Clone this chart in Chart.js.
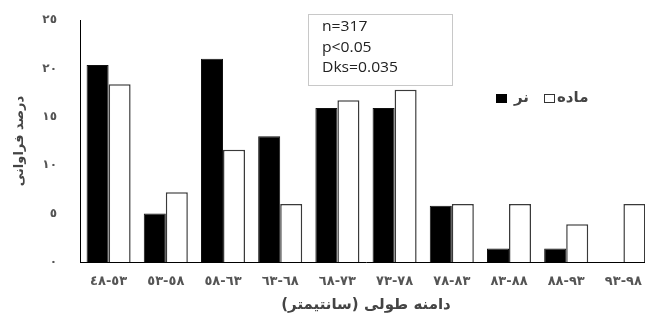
<!DOCTYPE html>
<html><head><meta charset="utf-8">
<script src="https://cdn.jsdelivr.net/npm/chart.js@4.4.1/dist/chart.umd.min.js"></script>
<style>
html,body{margin:0;padding:0;background:#fff;overflow:hidden;width:645px;height:320px;}
#wrap{position:relative;width:660px;height:320px;}
canvas{direction:rtl;display:block;}
#stats{position:absolute;left:308px;top:14px;width:145px;height:72px;border:1px solid #c8c8c8;box-sizing:border-box;font-family:'Open Sans',sans-serif;font-size:14px;line-height:20.5px;color:#222;padding:1px 0 0 13px;background:#fff;}
#stats div{transform:scaleX(1.12);transform-origin:0 50%;white-space:nowrap;}
#legend{position:absolute;left:490px;top:88px;height:22px;font-family:'DejaVu Sans',sans-serif;font-weight:bold;font-size:15px;color:#444;}
#legend .box{position:absolute;box-sizing:border-box;width:11px;height:9px;}
#legend .lbl{position:absolute;top:0px;white-space:nowrap;direction:rtl;}
</style></head>
<body><div id="wrap"><canvas id="c" width="660" height="320"></canvas>
<div id="stats"></div><div id="legend"></div></div>
<script>
// ---- data ----
const categories = ['٤٨-٥٣','٥٣-٥٨','٥٨-٦٣','٦٣-٦٨','٦٨-٧٣','٧٣-٧٨','٧٨-٨٣','٨٣-٨٨','٨٨-٩٣','٩٣-٩٨'];
const maleValues   = [20.35, 5.0, 21.0, 13.0, 15.9, 15.9, 5.8, 1.4, 1.4, 0];
const femaleValues = [18.35, 7.2, 11.6, 6.0, 16.7, 17.8, 6.0, 6.0, 3.9, 6.0];
const yTickLabels = ['٠','٥','١٠','١٥','٢٠','٢٥'];
const seriesNames = ['نر','ماده'];
const statsLines = ['n=317','p<0.05','Dks=0.035'];
const xTitle = 'دامنه طولی (سانتیمتر)';
const yTitle = 'درصد فراوانی';

const seriesFill = ['#000000','#ffffff'];
const seriesBorder = ['#111111','#3a3a3a'];

const arabicFont = "'DejaVu Sans', sans-serif";

const chart = new Chart(document.getElementById('c'), {
  type: 'bar',
  data: {
    labels: categories,
    datasets: [
      {label: seriesNames[0], data: maleValues, backgroundColor: seriesFill[0], borderColor: seriesBorder[0], borderWidth: 1},
      {label: seriesNames[1], data: femaleValues, backgroundColor: seriesFill[1], borderColor: seriesBorder[1], borderWidth: 1.5}
    ]
  },
  options: {
    responsive: false,
    animation: false,
    devicePixelRatio: 1,
    layout: {padding: {left: 8, right: 8, top: 20, bottom: 0}},
    datasets: {bar: {categoryPercentage: 0.77, barPercentage: 1.0}},
    plugins: {legend: {display: false}, tooltip: {enabled: false}},
    scales: {
      x: {
        grid: {display: false, drawTicks: false},
        border: {display: true, color: '#000', width: 1},
        ticks: {
          color: '#555', padding: 12, maxRotation: 0, autoSkip: false,
          font: {family: arabicFont, weight: 'bold', size: 13},
          callback: function(v, i) { return categories[i].replace('-', '\u200E-\u200E'); }
        },
        title: {display: true, text: xTitle, color: '#444', font: {family: arabicFont, weight: 'bold', size: 15}, padding: {top: 4, bottom: 6}},
        afterFit: function(s) { s.height = 58; s.paddingLeft = 0; s.paddingRight = 0; }
      },
      y: {
        min: 0, max: 25,
        grid: {display: false, drawTicks: false},
        border: {display: true, color: '#000', width: 1},
        ticks: {
          stepSize: 5, color: '#555', padding: 23,
          font: {family: arabicFont, weight: 'bold', size: 12},
          callback: function(v) { return yTickLabels[Math.round(v / 5)]; }
        },
        title: {display: true, text: yTitle, color: '#444', font: {family: arabicFont, weight: 'bold', size: 13}, padding: {top: 4, bottom: 4}},
        afterFit: function(s) { s.width = 72; s.paddingTop = 0; s.paddingBottom = 0; }
      }
    }
  }
});

// stats box
document.getElementById('stats').innerHTML = statsLines.map(t => '<div>' + t.replace(/</g,'&lt;') + '</div>').join('');

// legend
const legendPos = [{box: 6, lbl: 24}, {box: 54, lbl: 67}];
const leg = document.getElementById('legend');
chart.data.datasets.forEach((ds, i) => {
  const b = document.createElement('div');
  b.className = 'box';
  b.style.left = legendPos[i].box + 'px';
  b.style.top = '6px';
  b.style.background = ds.backgroundColor;
  b.style.border = '1px solid ' + (i === 0 ? '#000' : '#333');
  leg.appendChild(b);
  const l = document.createElement('div');
  l.className = 'lbl';
  l.style.left = legendPos[i].lbl + 'px';
  l.textContent = ds.label;
  leg.appendChild(l);
});
</script>
</body></html>
